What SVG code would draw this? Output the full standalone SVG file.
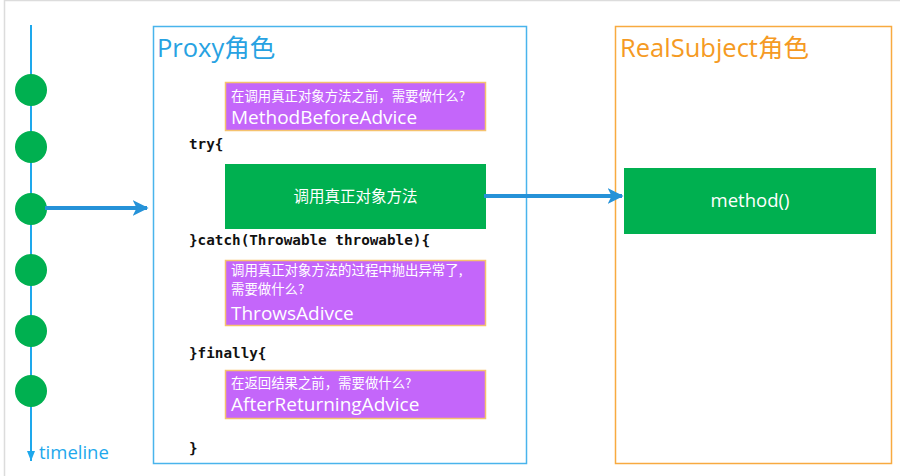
<svg xmlns="http://www.w3.org/2000/svg" width="900" height="476" viewBox="0 0 900 476">
<defs>
<marker id="ah" viewBox="0 0 10 10" refX="9" refY="5" markerWidth="16" markerHeight="16" orient="auto" markerUnits="userSpaceOnUse"><path d="M0,0 L10,5 L0,10 L2.5,5 z" fill="#2592d8"/></marker>
<marker id="tl" viewBox="0 0 10 10" refX="10" refY="5" markerWidth="10" markerHeight="10" orient="auto" markerUnits="userSpaceOnUse"><path d="M0,1 L10,5 L0,9 z" fill="#1ea8ec"/></marker>
</defs>
<style>
.cn{font-family:"Microsoft YaHei","Noto Sans CJK SC",sans-serif;}
.lat{font-family:"Open Sans","Noto Sans CJK SC",sans-serif;}
.code{font-family:"DejaVu Sans Mono","Liberation Mono",monospace;font-weight:bold;font-size:14.3px;fill:#111;}
.adv{fill:#c466fa;stroke:#f5c26e;stroke-width:1.5;}
.green{fill:#00b050;}
.dot{fill:#00b050;}
.small{font-size:13.4px;fill:#fff;}
.big{font-size:19px;fill:#fff;}
.conn{stroke:#2592d8;stroke-width:4;fill:none;}
</style>
<rect x="0" y="0" width="900" height="476" fill="#fff"/>
<path d="M4.5,476 V0.5 H900" fill="none" stroke="#dcdcdc" stroke-width="1.5"/>

<g id="timeline">
<line x1="31" y1="25" x2="31" y2="461" stroke="#1ea8ec" stroke-width="2" marker-end="url(#tl)"/>
<circle class="dot" cx="31" cy="90" r="16"/>
<circle class="dot" cx="31" cy="147" r="16"/>
<circle class="dot" cx="31" cy="209" r="16"/>
<circle class="dot" cx="31" cy="270" r="16"/>
<circle class="dot" cx="31" cy="331" r="16"/>
<circle class="dot" cx="31" cy="391" r="16"/>
<text x="39" y="459" class="lat" font-size="18.5" fill="#1ea8ec">timeline</text>
</g>

<g id="proxy">
<rect x="153.5" y="26.5" width="373" height="437" fill="none" stroke="#49b4ec" stroke-width="1.5"/>
<text x="157" y="57" class="lat" font-size="25.5" fill="#27a2e2">Proxy角色</text>
<text x="189" y="149" class="code">try{</text>
<text x="189" y="245" class="code">}catch(Throwable throwable){</text>
<text x="189" y="358" class="code">}finally{</text>
<text x="189" y="453" class="code">}</text>
</g>

<g id="before">
<rect class="adv" x="225.5" y="82.5" width="260" height="48"/>
<text x="231" y="101" class="cn small">在调用真正对象方法之前，需要做什么?</text>
<text x="231" y="124" class="lat big">MethodBeforeAdvice</text>
</g>

<g id="invoke">
<rect class="green" x="225" y="164" width="261" height="65"/>
<text x="355.5" y="202" class="cn" font-size="15.5" fill="#fff" text-anchor="middle">调用真正对象方法</text>
</g>

<g id="throws">
<rect class="adv" x="225.5" y="260.5" width="260" height="65"/>
<text x="231" y="275" class="cn small">调用真正对象方法的过程中抛出异常了,</text>
<text x="231" y="294" class="cn small">需要做什么?</text>
<text x="231" y="320" class="lat big">ThrowsAdivce</text>
</g>

<g id="after">
<rect class="adv" x="225.5" y="370.5" width="260" height="48"/>
<text x="231" y="388" class="cn small">在返回结果之前，需要做什么?</text>
<text x="231" y="411" class="lat big">AfterReturningAdvice</text>
</g>

<g id="realsubject">
<rect x="615.5" y="26.5" width="276" height="437" fill="none" stroke="#f8aa40" stroke-width="1.5"/>
<text x="620" y="57" class="lat" font-size="25.5" fill="#f59a23">RealSubject角色</text>
</g>

<g id="method">
<rect class="green" x="624" y="168" width="252" height="66"/>
<text x="750" y="207" class="lat" font-size="18.5" fill="#fff" text-anchor="middle">method()</text>
</g>

<g id="connectors">
<line class="conn" x1="45" y1="208" x2="147" y2="208" marker-end="url(#ah)"/>
<line class="conn" x1="484" y1="196" x2="622" y2="196" marker-end="url(#ah)"/>
</g>
</svg>
